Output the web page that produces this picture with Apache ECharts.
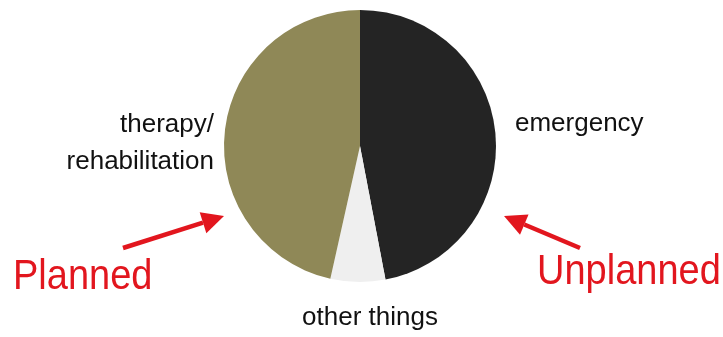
<!DOCTYPE html>
<html><head><meta charset="utf-8">
<script src="https://cdn.jsdelivr.net/npm/echarts@6/dist/echarts.min.js"></script>
<style>html,body{margin:0;padding:0;background:#fff}#c{width:723px;height:337px}</style>
</head><body><div id="c"></div>
<script>
const categories = ['emergency', 'other things', 'therapy/\nrehabilitation'];
const values = [47, 6.5, 46.5];
const sliceColors = ['#242424', '#efefef', '#8f8857'];
const annotations = ['Planned', 'Unplanned'];

const labelPos = [
  {x: 515, y: 124, align: 'left'},
  {x: 370, y: 318, align: 'center'},
  {x: 214, y: 143, align: 'right'}
];

const chart = echarts.init(document.getElementById('c'));
const red = '#e2161e';
function arrow(x1, y1, x2, y2) {
  const ang = Math.atan2(y2 - y1, x2 - x1);
  const L = 22, W = 11;
  const bx = x2 - L * Math.cos(ang), by = y2 - L * Math.sin(ang);
  const px = -Math.sin(ang) * W, py = Math.cos(ang) * W;
  return [
    {type: 'line', shape: {x1: x1, y1: y1, x2: bx, y2: by}, style: {stroke: red, lineWidth: 4.5}},
    {type: 'polygon', shape: {points: [[x2, y2], [bx + px, by + py], [bx - px, by - py]]}, style: {fill: red}}
  ];
}
chart.setOption({
  backgroundColor: '#ffffff',
  animation: false,
  series: [{
    type: 'pie',
    center: [360, 146],
    radius: 136,
    startAngle: 90,
    clockwise: true,
    data: categories.map((c, i) => ({name: c, value: values[i], itemStyle: {color: sliceColors[i]}})),
    label: {
      show: true,
      formatter: '{b}',
      fontFamily: 'Liberation Sans, Arial, sans-serif',
      fontSize: 26,
      lineHeight: 37,
      color: '#111111'
    },
    labelLine: {show: false},
    labelLayout: function (p) {
      const pos = labelPos[p.dataIndex];
      return {x: pos.x, y: pos.y, align: pos.align, verticalAlign: 'middle'};
    },
    emphasis: {disabled: true}
  }],
  graphic: [
    {type: 'text', left: 13, top: 257, style: {text: annotations[0], fill: red, font: '38px "Liberation Sans", Arial, sans-serif'}, scaleY: 1.1},
    {type: 'text', left: 537, top: 252, style: {text: annotations[1], fill: red, font: '38px "Liberation Sans", Arial, sans-serif'}, scaleY: 1.1}
  ].concat(arrow(123, 248, 224, 216)).concat(arrow(580, 248, 504, 216))
});
</script></body></html>
